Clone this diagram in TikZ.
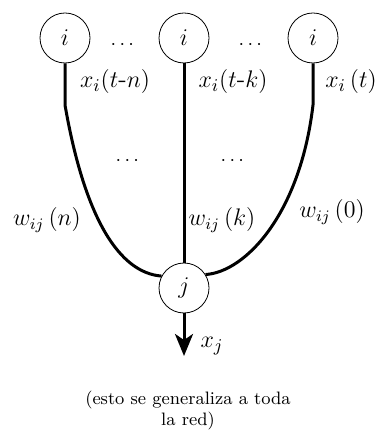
\documentclass[tikz,border=0pt]{standalone}
\usepackage{amsmath}
\usetikzlibrary{arrows.meta}

\begin{document}
\begin{tikzpicture}[x=0.5pt, y=-0.5pt,
  neuron/.style={circle, draw, thin, minimum size=25pt, inner sep=0pt, font=\fontsize{12}{14}\selectfont},
  syn/.style={line width=1.5pt},
  lbl/.style={font=\fontsize{13}{15}\selectfont},
  wlbl/.style={font=\fontsize{12}{14}\selectfont}]
  \useasboundingbox (0,0) rectangle (384,437);
  % delayed copies of neuron i
  \node[neuron] (I1) at (65,38) {$i$};
  \node[neuron] (I2) at (184,38) {$i$};
  \node[neuron] (I3) at (313,38) {$i$};
  \node (D1) at (124,45) {$\cdots$};
  \node (D2) at (252,45) {$\cdots$};
  % output neuron j
  \node[neuron] (J) at (184,288) {$j$};
  % bends of the outer connections
  \coordinate (B1) at (65,105);
  \coordinate (B3) at (313,105);
  \coordinate (Out) at (184,356);
  % connections
  \draw[syn] (I1.south) -- (B1) .. controls (85,220) and (120,273) .. (J.152);
  \draw[syn] (I2.south) -- (J.north);
  \draw[syn] (I3.south) -- (B3) .. controls (300,215) and (245,272) .. (J.32);
  \draw[syn, -{Stealth[length=11pt, width=9pt, inset=3pt]}] (J.south) -- (Out);
  % signals
  \node[lbl] (X1) at (115,82) {$x_i(t\text{-}n)$};
  \node[lbl] (X2) at (233,82) {$x_i(t\text{-}k)$};
  \node[lbl] (X3) at (351,82) {$x_i\,(t)$};
  \node[lbl] (XJ) at (212,346) {$x_j$};
  \node (D3) at (129,161) {$\cdots$};
  \node (D4) at (234,161) {$\cdots$};
  % weights
  \node[wlbl] (W1) at (47,220) {$w_{ij}\,(n)$};
  \node[wlbl] (W2) at (222,220) {$w_{ij}\,(k)$};
  \node[wlbl] (W3) at (332,212) {$w_{ij}\,(0)$};
  % note
  \node[font=\fontsize{9}{10.5}\selectfont, align=center] (N) at (188,410)
    {(esto se generaliza a toda\\la red)};
\end{tikzpicture}
\end{document}
